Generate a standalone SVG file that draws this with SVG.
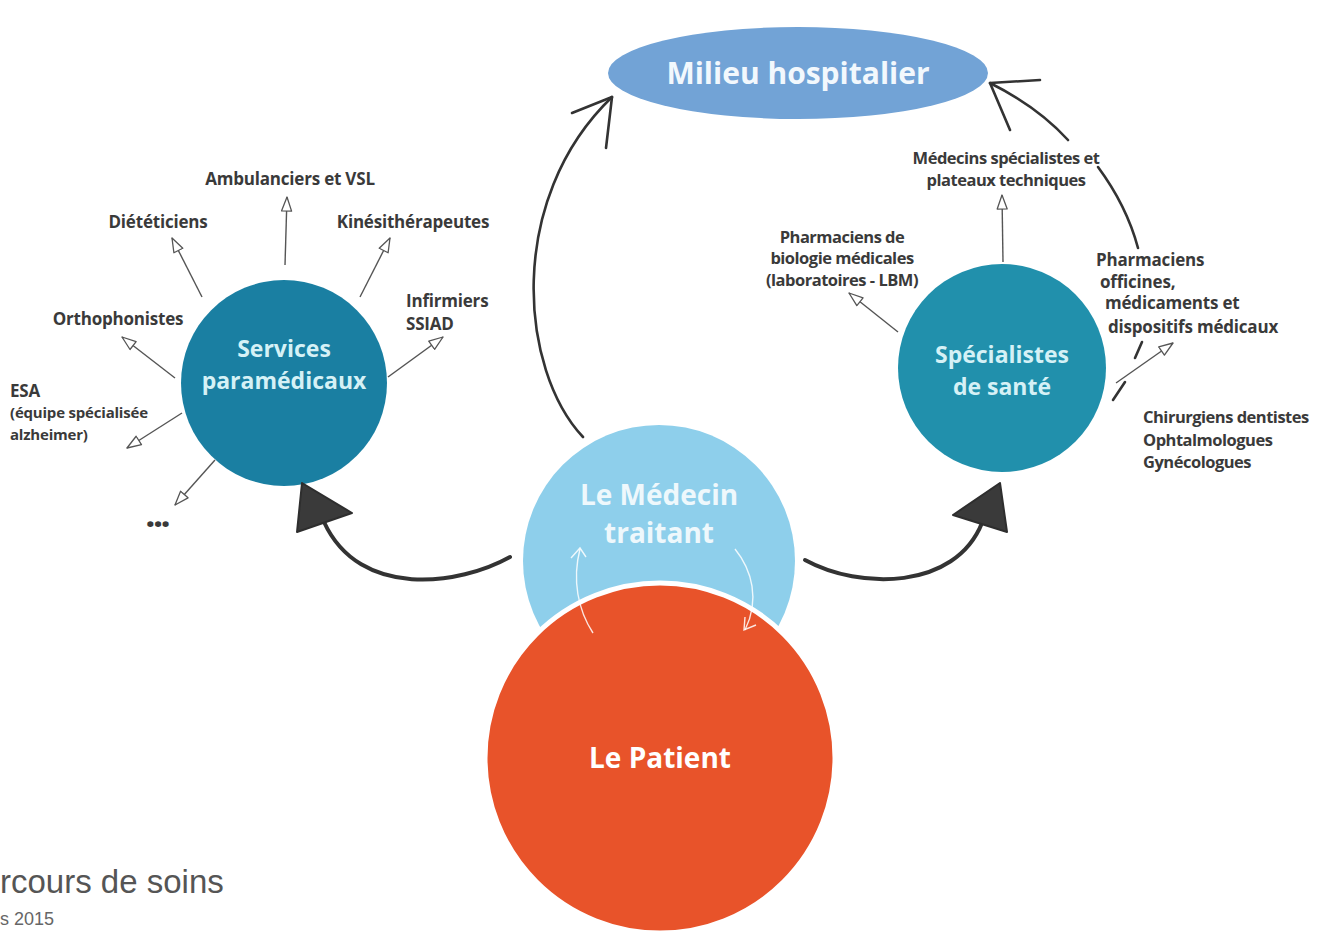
<svg xmlns="http://www.w3.org/2000/svg" width="1318" height="932" viewBox="0 0 1318 932">
<style>
.lbl{font-family:"Open Sans","Noto Sans",sans-serif;font-weight:700;font-size:17px;fill:#3a3a3a;letter-spacing:-0.2px}
.tight{letter-spacing:-0.5px;font-size:16.5px}
.sm{font-size:15px}
.dots{font-size:30px;font-weight:800;letter-spacing:-1px}
.thin{fill:none;stroke:#555;stroke-width:1.4;marker-end:url(#open)}
.big{fill:none;stroke:#333;stroke-width:4;stroke-linecap:round}
.mid{fill:none;stroke:#333;stroke-width:2.6;stroke-linecap:round;stroke-linejoin:round}
.head{fill:#3a3a3a;stroke:#2e2e2e;stroke-width:2;stroke-linejoin:round}
.ntitle{font-family:"Open Sans","Noto Sans",sans-serif;font-weight:700;text-anchor:middle}
.warr{fill:none;stroke:#fff;stroke-width:1.4;opacity:0.85}
</style>
<defs>
<marker id="open" viewBox="0 0 16 12" refX="15" refY="6" markerWidth="16" markerHeight="12" markerUnits="userSpaceOnUse" orient="auto">
<path d="M1,1 L15,6 L1,11 Z" fill="#fff" stroke="#555" stroke-width="1.3" stroke-linejoin="round"/>
</marker>
</defs>
<rect width="1318" height="932" fill="#fff"/>

<g id="milieu">
<ellipse cx="798" cy="73" rx="190" ry="46" fill="#72a3d6"/>
<text class="ntitle" x="798" y="84" font-size="30" fill="#f2f8fd">Milieu hospitalier</text>
</g>

<g id="services">
<circle cx="284" cy="383" r="103" fill="#1a7fa2"/>
<text class="ntitle" x="284" y="357" font-size="23" fill="#d5f1f6">Services</text>
<text class="ntitle" x="284" y="389" font-size="23" fill="#d5f1f6">paramédicaux</text>
</g>

<g id="specialistes">
<circle cx="1002" cy="368" r="104" fill="#2190ac"/>
<text class="ntitle" x="1002" y="363" font-size="23" fill="#d5f1f6">Spécialistes</text>
<text class="ntitle" x="1002" y="395" font-size="23" fill="#d5f1f6">de santé</text>
</g>

<g id="medecin">
<circle cx="659" cy="561" r="136" fill="#8ecfeb"/>
<text class="ntitle" x="659" y="505" font-size="28" fill="#eef8fc">Le Médecin</text>
<text class="ntitle" x="659" y="543" font-size="28" fill="#eef8fc">traitant</text>
</g>

<g id="patient">
<circle cx="660" cy="758" r="175" fill="#e8532a" stroke="#fff" stroke-width="5"/>
<text class="ntitle" x="660" y="768" font-size="28" fill="#fff">Le Patient</text>
<path class="warr" d="M593,633 C578,610 572,580 580,549"/>
<path class="warr" d="M571,558 L580,548 L586,557"/>
<path class="warr" d="M735,549 C752,570 760,600 745,630"/>
<path class="warr" d="M745,617 L744,630 L756,625"/>
</g>

<g id="labels-services">
<text class="lbl" x="290" y="185" text-anchor="middle">Ambulanciers et VSL</text>
<text class="lbl" x="158" y="228" text-anchor="middle">Diététiciens</text>
<text class="lbl" x="413" y="228" text-anchor="middle">Kinésithérapeutes</text>
<text class="lbl" x="406" y="307">Infirmiers</text>
<text class="lbl" x="406" y="330">SSIAD</text>
<text class="lbl" x="118" y="325" text-anchor="middle">Orthophonistes</text>
<text class="lbl" x="10" y="397">ESA</text>
<text class="lbl sm" x="10" y="418">(équipe spécialisée</text>
<text class="lbl sm" x="10" y="440">alzheimer)</text>
<text class="lbl dots" x="146" y="527">...</text>
</g>

<g id="labels-specialistes">
<text class="lbl tight" x="1006" y="164" text-anchor="middle">Médecins spécialistes et</text>
<text class="lbl tight" x="1006" y="186" text-anchor="middle">plateaux techniques</text>
<text class="lbl tight" x="842" y="243" text-anchor="middle">Pharmaciens de</text>
<text class="lbl tight" x="842" y="264" text-anchor="middle">biologie médicales</text>
<text class="lbl tight" x="842" y="286" text-anchor="middle">(laboratoires - LBM)</text>
<text class="lbl" x="1096" y="266">Pharmaciens</text>
<text class="lbl" x="1100" y="288">officines,</text>
<text class="lbl" x="1105" y="309">médicaments et</text>
<text class="lbl" x="1108" y="333">dispositifs médicaux</text>
<text class="lbl tight" x="1143" y="423">Chirurgiens dentistes</text>
<text class="lbl tight" x="1143" y="446">Ophtalmologues</text>
<text class="lbl tight" x="1143" y="468">Gynécologues</text>
</g>

<g id="connectors">
<path class="thin" d="M285,265 L287,197"/>
<path class="thin" d="M202,297 L172,238"/>
<path class="thin" d="M360,297 L390,238"/>
<path class="thin" d="M388,377 L443,337"/>
<path class="thin" d="M175,378 L122,337"/>
<path class="thin" d="M182,413 L127,448"/>
<path class="thin" d="M215,460 L175,505"/>
<path class="thin" d="M1003,262 L1002,195"/>
<path class="thin" d="M898,332 L849,293"/>
<path class="thin" d="M1116,383 L1173,343"/>

<path class="big" d="M510,557 C460,585 360,600 324,522"/>
<polygon class="head" points="302,483 352,513 297,532"/>
<path class="big" d="M805,560 C860,590 955,590 982,523"/>
<polygon class="head" points="1000,483 953,515 1007,532"/>

<path class="mid" d="M583,437 C520,370 505,200 612,97"/>
<path class="mid" d="M572,113 L612,97 L606,148"/>

<path class="mid" d="M990,83 C1020,98 1048,118 1068,140"/>
<path class="mid" d="M1098,167 C1115,190 1130,218 1138,248"/>
<path class="mid" d="M1142,342 L1135,358"/>
<path class="mid" d="M1125,382 L1113,400" stroke-width="3.5"/>
<path class="mid" d="M1040,80 L990,83 L1010,130"/>
</g>

<g id="caption">
<text x="0" y="893" font-family="Liberation Sans, Arial, sans-serif" font-size="33" fill="#555">rcours de soins</text>
<text x="0" y="925" font-family="Liberation Sans, Arial, sans-serif" font-size="18" fill="#666">s 2015</text>
</g>
</svg>
